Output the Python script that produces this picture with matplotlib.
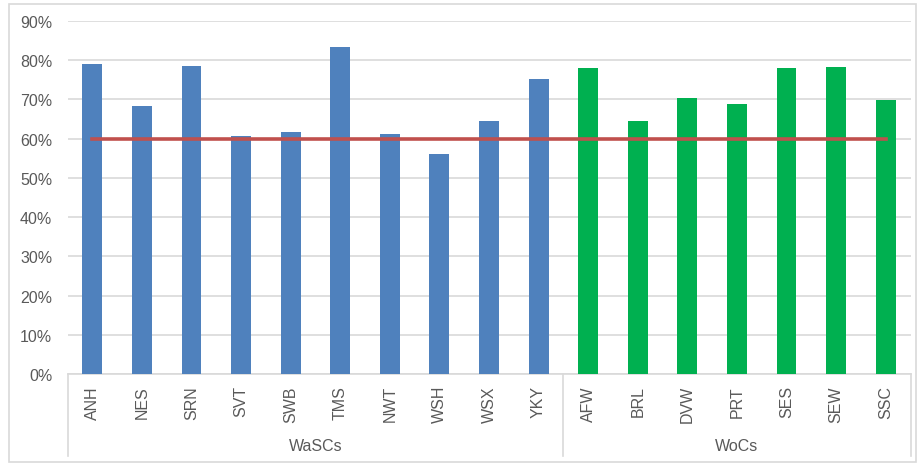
import matplotlib
matplotlib.use("Agg")
import matplotlib.pyplot as plt
from matplotlib.patches import Rectangle
from matplotlib.lines import Line2D
import numpy as np

plt.rcParams['font.family'] = ['Liberation Sans', 'DejaVu Sans']

wascs = ["ANH", "NES", "SRN", "SVT", "SWB", "TMS", "NWT", "WSH", "WSX", "YKY"]
wascs_vals = [79.0, 68.3, 78.4, 60.7, 61.7, 83.3, 61.3, 56.2, 64.6, 75.3]
wocs = ["AFW", "BRL", "DVW", "PRT", "SES", "SEW", "SSC"]
wocs_vals = [77.9, 64.6, 70.3, 68.8, 77.9, 78.3, 69.8]
groups = ["WaSCs", "WoCs"]
target = 60.0
yticks = [0, 10, 20, 30, 40, 50, 60, 70, 80, 90]

W, H = 917, 464
fig = plt.figure(figsize=(W / 100, H / 100), dpi=100)
L, R, T, B = 67.5, 910.5, 22, 375
ax = fig.add_axes([L / W, 1 - B / H, (R - L) / W, (B - T) / H])

cats = wascs + wocs
n = len(cats)
x = np.arange(n)
ax.bar(x[:len(wascs)], wascs_vals, width=0.4, color="#4F81BD", zorder=3)
ax.bar(x[len(wascs):], wocs_vals, width=0.4, color="#00B050", zorder=3)
ax.plot([x[0], x[-1]], [target, target], color="#C0504D", lw=2.6, zorder=4)

ax.set_xlim(-0.5, n - 0.5)
ax.set_ylim(0, 90)
ax.set_yticks(yticks)
ax.set_yticklabels([f"{v}%" for v in yticks], color="#595959", fontsize=11.5)
ax.yaxis.grid(True, color="#D9D9D9", lw=1.2, zorder=0)
ax.tick_params(axis="y", length=0, pad=11)
ax.set_xticks(x)
ax.set_xticklabels(cats, rotation=90, color="#595959", fontsize=11.5)
ax.tick_params(axis="x", length=0, pad=8)
for s in ["left", "right", "top"]:
    ax.spines[s].set_visible(False)
ax.spines["bottom"].set_color("#D9D9D9")
ax.spines["bottom"].set_linewidth(1.2)

# group separators and labels
trans = ax.get_xaxis_transform()
sep_bottom = -(457 - B) / (B - T)
for xs in [-0.5, len(wascs) - 0.5, n - 0.5]:
    ax.add_line(Line2D([xs, xs], [0, sep_bottom], transform=trans, color="#D9D9D9",
                       lw=1.2, clip_on=False))
glabel_y = -(447 - B) / (B - T)
ax.text((len(wascs) - 1) / 2, glabel_y, groups[0], transform=trans, ha="center",
        va="center", fontsize=11.5, color="#595959")
ax.text(len(wascs) + (len(wocs) - 1) / 2, glabel_y, groups[1], transform=trans,
        ha="center", va="center", fontsize=11.5, color="#595959")

# outer frame
fig.patches.append(Rectangle((8.5 / W, 1.5 / H), (916 - 8.5) / W, 457.5 / H,
                             transform=fig.transFigure, fill=False,
                             edgecolor="#D9D9D9", lw=1.2))

fig.savefig("out.png", dpi=100)
